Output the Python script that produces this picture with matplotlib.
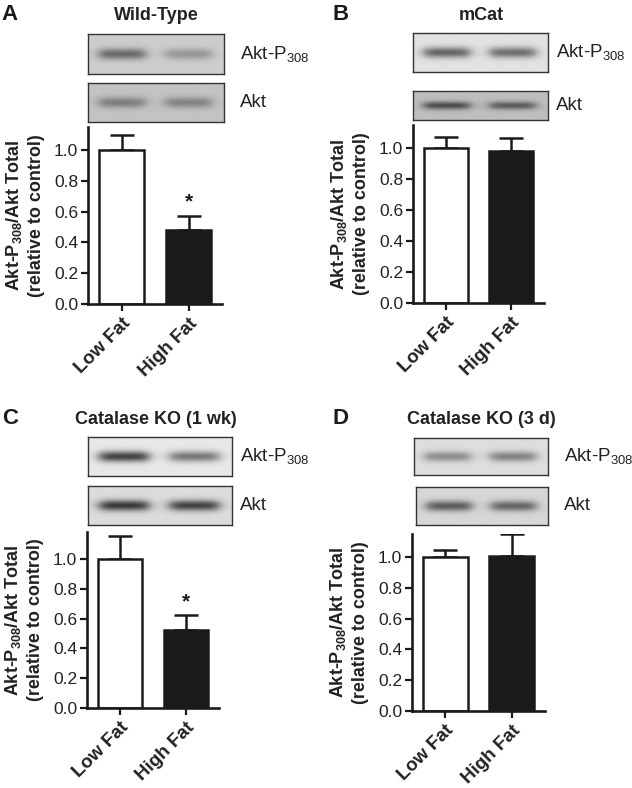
import numpy as np
import matplotlib
matplotlib.use("Agg")
import matplotlib.pyplot as plt

plt.rcParams['font.family'] = ['Liberation Sans', 'DejaVu Sans']
plt.rcParams['mathtext.fontset'] = 'custom'
plt.rcParams['mathtext.rm'] = 'Liberation Sans'
plt.rcParams['mathtext.bf'] = 'Liberation Sans:bold'
plt.rcParams['mathtext.it'] = 'Liberation Sans:italic'

# ---------------- data ----------------
panel_letters = ["A", "B", "C", "D"]
panel_titles = ["Wild-Type", "mCat", "Catalase KO (1 wk)", "Catalase KO (3 d)"]
categories = ["Low Fat", "High Fat"]
means = [[1.00, 0.48], [1.00, 0.98], [1.00, 0.52], [1.00, 1.01]]
sems = [[0.10, 0.095], [0.07, 0.085], [0.155, 0.105], [0.045, 0.14]]
significant = [[False, True], [False, False], [False, True], [False, False]]
yticks = [0.0, 0.2, 0.4, 0.6, 0.8, 1.0]
ytop = [1.15, 1.15, 1.18, 1.15]
blot_labels = [r"Akt-P$_{308}$", "Akt"]
# blot greys (0-255): background, lane1 band, lane2 band  for [phospho, total]
blot_bg = [[205, 195], [226, 190], [232, 220], [222, 215]]
blot_band = [[[105, 150], [125, 130]],
             [[100, 110], [75, 90]],
             [[65, 120], [55, 65]],
             [[140, 130], [90, 100]]]

# ---------------- layout (pixels) ----------------
W, H = 632, 788
fig = plt.figure(figsize=(W / 100, H / 100), dpi=100)

def fbox(x0, y0, x1, y1):
    return [x0 / W, 1 - y1 / H, (x1 - x0) / W, (y1 - y0) / H]

bar_boxes = [(88, 127, 222, 304), (413, 125, 544, 303), (87, 532, 219, 708), (412, 534, 545, 711)]
blot_boxes = [[(88, 34, 224, 74), (88, 83, 224, 122)],
              [(413, 33, 548, 72), (413, 91, 548, 120)],
              [(88, 437, 232, 476), (88, 486, 232, 525)],
              [(414, 438, 548, 475), (416, 487, 548, 525)]]
label_x = [240, 556, 240, 564]
title_pos = [(156, 15), (481, 15), (156, 419), (481, 419)]
letter_pos = [(10, 15), (341, 15), (10, 419), (341, 419)]

def blot_image(bg, bands, nx=200, ny=60):
    x = np.linspace(0, 1, nx)[None, :]
    y = np.linspace(-1, 1, ny)[:, None]
    img = np.full((ny, nx), float(bg))
    centers = [0.25, 0.74]
    for c, b in zip(centers, bands):
        prof_x = 1 / (1 + np.exp(-(x - (c - 0.17)) / 0.025)) * 1 / (1 + np.exp((x - (c + 0.17)) / 0.025))
        prof_y = np.exp(-(y / 0.28) ** 2)
        img = img - (bg - b) * prof_x * prof_y
    return img / 255.0

for i in range(4):
    # blots
    for j in range(2):
        x0, y0, x1, y1 = blot_boxes[i][j]
        bax = fig.add_axes(fbox(x0, y0, x1, y1))
        bax.imshow(blot_image(blot_bg[i][j], blot_band[i][j]), cmap='gray', vmin=0, vmax=1,
                   aspect='auto', interpolation='bilinear')
        bax.set_xticks([]); bax.set_yticks([])
        for s in bax.spines.values():
            s.set_color('#333333'); s.set_linewidth(1.0)
        fig.text(label_x[i] / W, 1 - ((y0 + y1) / 2) / H, blot_labels[j], fontsize=13.5,
                 ha='left', va='center', color='#222222')

    # bar chart
    x0, y0, x1, y1 = bar_boxes[i]
    ax = fig.add_axes(fbox(x0, y0, x1, y1))
    xs = np.arange(len(categories))
    ax.bar(xs, means[i], width=0.67, color=['white', '#1a1a1a'], edgecolor='#1a1a1a',
           linewidth=1.8, zorder=2)
    ax.errorbar(xs, means[i], yerr=[[0, 0], sems[i]], fmt='none', ecolor='#1a1a1a',
                elinewidth=1.8, capsize=8.5, capthick=1.8, zorder=1)
    for k in range(len(categories)):
        if significant[i][k]:
            ax.text(xs[k], means[i][k] + sems[i][k] + 0.025, "*", ha='center', va='bottom',
                    fontsize=15, fontweight='bold', color='#1a1a1a')
    ax.set_xlim(-0.5, 1.5)
    ax.set_ylim(0, ytop[i])
    ax.set_yticks(yticks)
    ax.set_yticklabels([f"{v:.1f}" for v in yticks], fontsize=12.5, color='#222222')
    ax.set_xticks(xs)
    ax.set_xticklabels(categories, rotation=45, ha='right', va='top', rotation_mode='anchor',
                       fontsize=13.5, fontweight='bold', color='#222222')
    ax.tick_params(axis='both', direction='out', length=5, width=1.6, color='#1a1a1a', pad=2)
    ax.tick_params(axis='x', pad=3)
    for s in ['top', 'right']:
        ax.spines[s].set_visible(False)
    for s in ['left', 'bottom']:
        ax.spines[s].set_linewidth(1.9)
        ax.spines[s].set_color('#1a1a1a')
    ax.set_ylabel("Akt-P$_{\\mathbf{308}}$/Akt Total\n(relative to control)", fontsize=13,
                  fontweight='bold', color='#222222', linespacing=1.3)
    ax.yaxis.set_label_coords(-43 / (x1 - x0), 0.5)

    # titles and letters
    fig.text(title_pos[i][0] / W, 1 - title_pos[i][1] / H, panel_titles[i], fontsize=13,
             fontweight='bold', ha='center', va='center', color='#222222')
    fig.text(letter_pos[i][0] / W, 1 - letter_pos[i][1] / H, panel_letters[i], fontsize=16,
             fontweight='bold', ha='center', va='center', color='#1a1a1a')

fig.savefig("out.png", dpi=100)
